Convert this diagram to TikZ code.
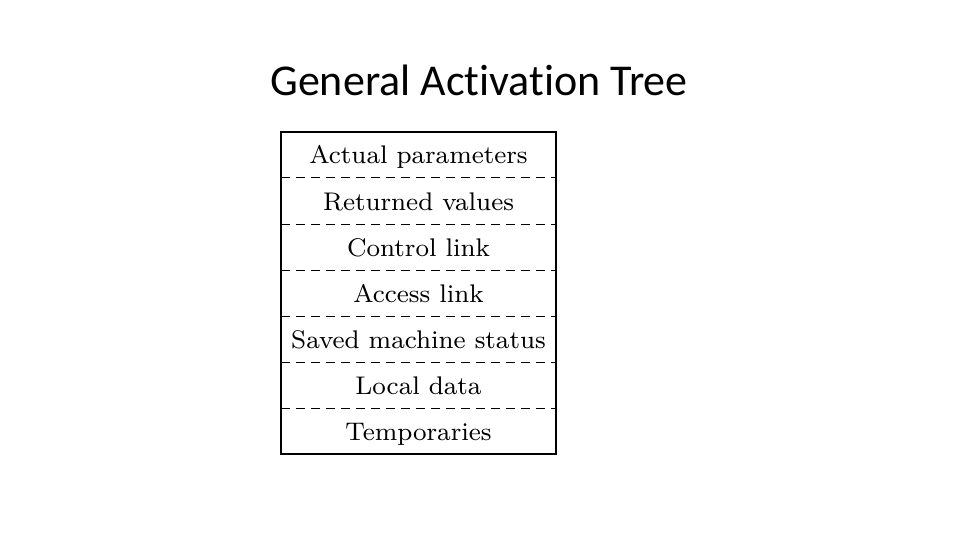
\documentclass[tikz,border=0pt]{standalone}
\usepackage{fontspec}
\newfontfamily\titlefont[Ligatures=NoCommon]{Carlito}
\newfontfamily\cellfont{lmroman8-regular.otf}
\usetikzlibrary{positioning}

\begin{document}
\begin{tikzpicture}[x=1pt,y=-1pt,
  font=\cellfont\fontsize{25.5}{28}\selectfont,
  slot/.style={minimum width=275pt,minimum height=46pt,inner sep=0pt,outer sep=0pt,
               text height=22pt,text depth=4pt},
  sep/.style={dash pattern=on 9pt off 6pt,line width=1pt},
  frame/.style={line width=1.3pt}]
\useasboundingbox (0,0) rectangle (960,540);

\node[font=\titlefont\fontsize{44}{50}\selectfont] (title) at (479,80) {General Activation Tree};

% the activation record, one slot per field
\node[slot] (params) at (418.5,155) {Actual parameters};
\node[slot,below=0pt of params] (retval) {Returned values};
\node[slot,below=0pt of retval] (ctrl) {Control link};
\node[slot,below=0pt of ctrl] (access) {Access link};
\node[slot,below=0pt of access] (saved) {Saved machine status};
\node[slot,below=0pt of saved] (local) {Local data};
\node[slot,below=0pt of local] (temps) {Temporaries};

\draw[sep] (params.south west) -- (params.south east);
\draw[sep] (retval.south west) -- (retval.south east);
\draw[sep] (ctrl.south west) -- (ctrl.south east);
\draw[sep] (access.south west) -- (access.south east);
\draw[sep] (saved.south west) -- (saved.south east);
\draw[sep] (local.south west) -- (local.south east);

\draw[frame] (params.north west) rectangle (temps.south east);
\end{tikzpicture}
\end{document}
